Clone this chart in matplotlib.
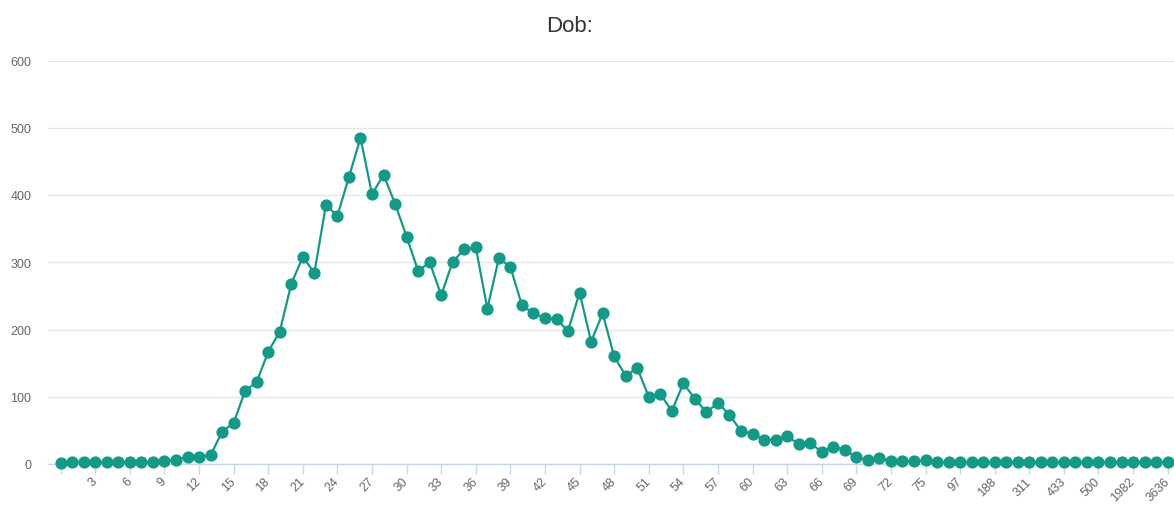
import matplotlib
matplotlib.use("Agg")
from matplotlib import pyplot as plt

# category labels (first one is blank in the source chart)
categories = [""] + [str(i) for i in range(1, 76)] + [
    "76", "78", "97", "99", "120", "188", "200", "250", "311", "333",
    "400", "433", "444", "480", "500", "555", "999", "1982", "2000",
    "3000", "3636",
]

counts = [
    1, 3, 3, 3, 3, 3, 3, 3, 3, 5,
    6, 11, 11, 13, 48, 61, 109, 122, 167, 197,
    268, 308, 284, 385, 369, 427, 485, 401, 430, 387,
    338, 287, 300, 251, 301, 319, 322, 231, 306, 293,
    236, 224, 217, 215, 198, 255, 182, 224, 160, 131,
    143, 100, 104, 79, 120, 97, 77, 91, 73, 49,
    45, 36, 36, 41, 30, 31, 18, 26, 21, 10,
    6, 9, 4, 4, 4, 6, 3, 3, 3, 3,
    3, 3, 3, 3, 3, 3, 3, 3, 3, 3,
    3, 3, 3, 3, 3, 3, 3,
]

title = "Dob:"
yticks = [0, 100, 200, 300, 400, 500, 600]

line_color = "#139a87"
grid_color = "#e6e6e6"
axis_color = "#ccd6eb"
label_color = "#666666"

plt.rcParams["font.family"] = ["Liberation Sans", "DejaVu Sans"]

W, H = 1174, 506
fig = plt.figure(figsize=(W / 100, H / 100), dpi=100)
fig.patch.set_facecolor("white")
ax = fig.add_axes([48 / W, (H - 465) / H, 1 - 48 / W, (465 - 61.5) / H])

x = list(range(len(counts)))
ax.plot(x, counts, color=line_color, linewidth=1.6, marker="o",
        markersize=7.8, markerfacecolor=line_color, markeredgecolor=line_color,
        clip_on=False, zorder=3)

ax.set_xlim(-1.1, 96.55)
ax.set_ylim(0, 600)
ax.set_yticks(yticks)
ax.set_yticklabels([str(v) for v in yticks])
ax.yaxis.grid(True, color=grid_color, linewidth=1)
ax.set_axisbelow(True)

tick_idx = list(range(0, len(categories), 3))
ax.set_xticks(tick_idx)
ax.set_xticklabels([categories[i] for i in tick_idx], rotation=45,
                   ha="right", va="center", rotation_mode="anchor")

for side in ["top", "right", "left"]:
    ax.spines[side].set_visible(False)
ax.spines["bottom"].set_color(axis_color)
ax.spines["bottom"].set_linewidth(1)

ax.tick_params(axis="x", colors=axis_color, length=7, width=1, pad=4,
               labelcolor=label_color, labelsize=9)
ax.tick_params(axis="y", length=0, pad=12, labelcolor=label_color, labelsize=9)

fig.text(570 / W, 1 - 27 / H, title, ha="center", va="center",
         fontsize=16, color="#333333")

fig.savefig("out.png", dpi=100)
